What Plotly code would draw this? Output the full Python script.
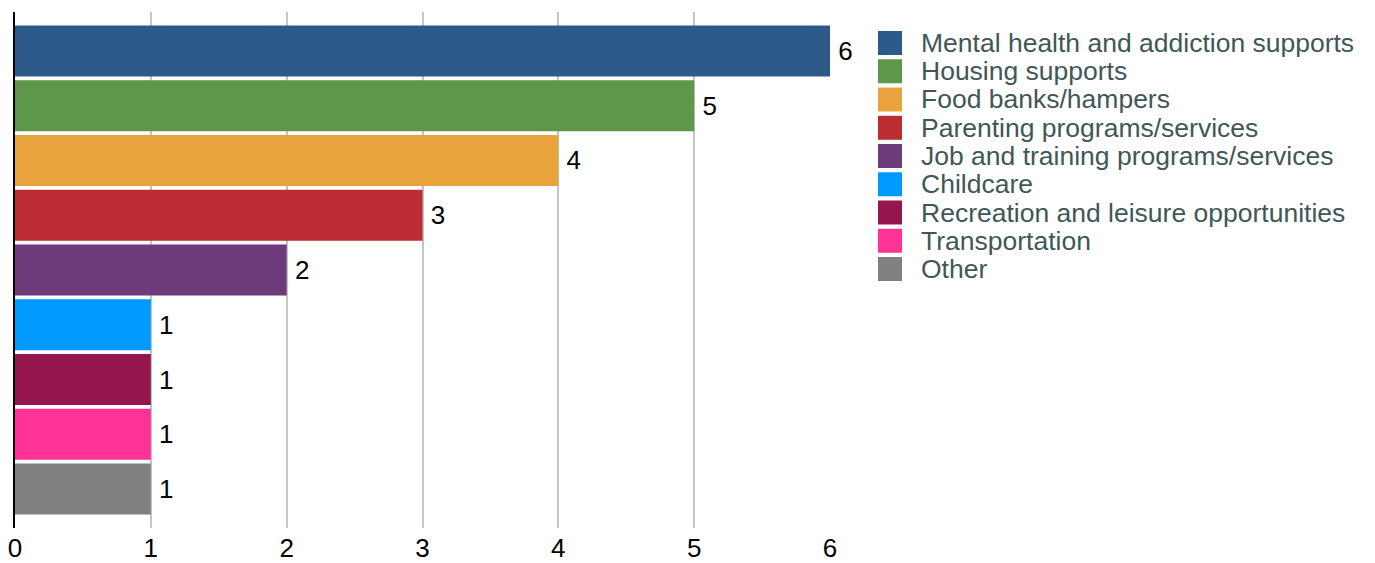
import plotly.graph_objects as go

# Data
categories = [
    "Mental health and addiction supports",
    "Housing supports",
    "Food banks/hampers",
    "Parenting programs/services",
    "Job and training programs/services",
    "Childcare",
    "Recreation and leisure opportunities",
    "Transportation",
    "Other",
]
counts = [6, 5, 4, 3, 2, 1, 1, 1, 1]
colors = ["#2e5a8a", "#5e964a", "#e8a33d", "#bb2d32", "#6d3b7a",
          "#0099ff", "#94164d", "#ff3396", "#808080"]
x_ticks = [0, 1, 2, 3, 4, 5, 6]

FONT = "Liberation Sans, Arial, sans-serif"

# the page body has an 8px margin, so the figure is offset by that much
OFF = 8
W, H = 1375 - OFF, 563 - OFF
# plot area, given in page pixels
L, R, T, B = 15 - OFF, 830 - OFF, 12 - OFF, 528 - OFF

fig = go.Figure()
for name, val, col in zip(categories, counts, colors):
    fig.add_trace(go.Bar(
        y=["all"], x=[val], name=name, orientation="h",
        marker=dict(color=col, line=dict(width=0)),
        text=[val], texttemplate="\u2009%{x}",
        textposition="outside", constraintext="none",
        textfont=dict(family=FONT, size=26, color="black"),
        cliponaxis=False, showlegend=False,
    ))

# hand-made legend (bigger swatches than plotly's native one)
shapes = []
annotations = []
for i, (name, col) in enumerate(zip(categories, colors)):
    cy = 43 - OFF + i * 28.25
    shapes.append(dict(
        type="rect", xref="paper", yref="paper",
        x0=(878 - OFF - L) / (R - L), x1=(902 - OFF - L) / (R - L),
        y0=(B - (cy + 12)) / (B - T), y1=(B - (cy - 12)) / (B - T),
        fillcolor=col, line=dict(width=0),
    ))
    annotations.append(dict(
        xref="paper", yref="paper",
        x=(919 - OFF - L) / (R - L), y=(B - cy) / (B - T),
        xanchor="left", yanchor="middle", showarrow=False,
        text=name, font=dict(family=FONT, size=26.5, color="#3f5757"),
    ))

fig.update_layout(
    width=W, height=H,
    margin=dict(l=L, r=W - R, t=T, b=H - B, pad=0, autoexpand=False),
    paper_bgcolor="white", plot_bgcolor="white",
    barmode="group", bargap=0.045, bargroupgap=0.07,
    showlegend=False,
    shapes=shapes, annotations=annotations,
    xaxis=dict(
        range=[0, 6], tickvals=x_ticks, showgrid=True, automargin=False,
        gridcolor="#c4c4c4", gridwidth=2, zeroline=False, showline=False,
        ticks="", ticklabelstandoff=2, ticklabeloverflow="allow",
        tickfont=dict(family=FONT, size=26, color="black"),
        fixedrange=True,
    ),
    yaxis=dict(
        autorange="reversed", showticklabels=False, showgrid=False,
        automargin=False,
        showline=True, linecolor="black", linewidth=2, zeroline=False,
        ticks="",
    ),
)

fig.write_html("out.html")
